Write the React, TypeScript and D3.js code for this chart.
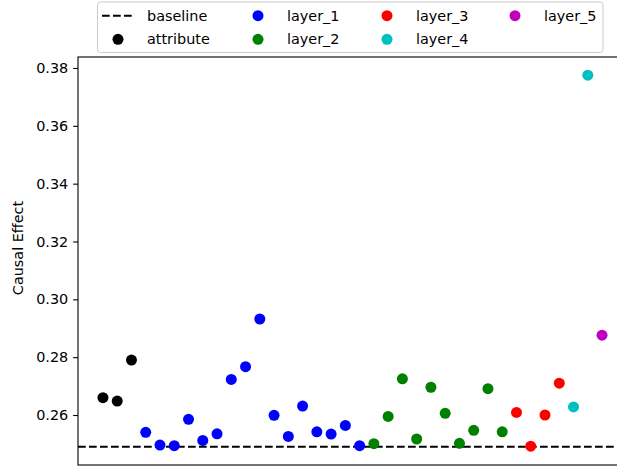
import React, { useEffect, useRef } from "react";
import * as d3 from "d3";

// values, in plotting order
const attributeVals = [0.266, 0.2648, 0.279];
const layer1Vals = [
  0.254, 0.2496, 0.2494, 0.2585, 0.2512, 0.2535, 0.2723, 0.2767,
  0.2932, 0.2599, 0.2526, 0.2631, 0.2542, 0.2534, 0.2564, 0.2494,
];
const layer2Vals = [
  0.2501, 0.2595, 0.2725, 0.2517, 0.2696, 0.2606, 0.2502, 0.2547, 0.2691, 0.2542,
];
const layer3Vals = [0.2609, 0.2492, 0.26, 0.271];
const layer4Vals = [0.2628, 0.3775];
const layer5Vals = [0.2876];
const baselineVal = 0.249;
const yTicks = [0.26, 0.28, 0.3, 0.32, 0.34, 0.36, 0.38];

const groups = [
  { name: "attribute", color: "#000000", vals: attributeVals },
  { name: "layer_1", color: "#0000ff", vals: layer1Vals },
  { name: "layer_2", color: "#008000", vals: layer2Vals },
  { name: "layer_3", color: "#ff0000", vals: layer3Vals },
  { name: "layer_4", color: "#00bfbf", vals: layer4Vals },
  { name: "layer_5", color: "#bf00bf", vals: layer5Vals },
];

const FONT = "DejaVu Sans, sans-serif";
const FS = 14.4;

export default function App() {
  const ref = useRef<SVGSVGElement>(null);

  useEffect(() => {
    const svg = d3.select(ref.current);
    svg.selectAll("*").remove();

    const left = 78, right = 627, top = 57, bottom = 465;

    // flatten the groups into indexed points
    let idx = 0;
    const points: { i: number; v: number; color: string }[] = [];
    groups.forEach((g) => {
      g.vals.forEach((v) => {
        points.push({ i: idx, v: v, color: g.color });
        idx++;
      });
    });
    const n = points.length - 1;
    const pad = n * 0.05;

    const x = d3.scaleLinear().domain([-pad, n + pad]).range([left, right]);
    const y = d3.scaleLinear().domain([0.24271, 0.3838]).range([bottom, top]);

    svg.append("rect")
      .attr("width", 617).attr("height", 468).attr("fill", "#fff");

    // baseline
    svg.append("line")
      .attr("x1", left).attr("x2", right)
      .attr("y1", y(baselineVal)).attr("y2", y(baselineVal))
      .attr("stroke", "#000")
      .attr("stroke-width", 2.1)
      .attr("stroke-dasharray", "7.7,3.3");

    // points
    svg.selectAll("circle.pt")
      .data(points)
      .enter().append("circle")
      .attr("class", "pt")
      .attr("cx", (d) => x(d.i))
      .attr("cy", (d) => y(d.v))
      .attr("r", 5.5)
      .attr("fill", (d) => d.color);

    // y axis
    const yAxis = d3.axisLeft(y).tickValues(yTicks)
      .tickFormat(d3.format(".2f"))
      .tickSize(4.9).tickPadding(4.9);
    const ga = svg.append("g")
      .attr("transform", "translate(" + left + ",0)")
      .call(yAxis);
    ga.select(".domain").remove();
    ga.selectAll("line").attr("stroke", "#000").attr("stroke-width", 1.1);
    ga.selectAll("text")
      .attr("font-family", FONT).attr("font-size", FS).attr("fill", "#000");

    // frame
    svg.append("rect")
      .attr("x", left).attr("y", top)
      .attr("width", right - left).attr("height", bottom - top)
      .attr("fill", "none")
      .attr("stroke", "#000")
      .attr("stroke-width", 1.1);

    svg.append("text")
      .attr("transform", "translate(23,248) rotate(-90)")
      .attr("text-anchor", "middle")
      .attr("font-family", FONT).attr("font-size", FS)
      .text("Causal Effect");

    // legend
    const lg = svg.append("g");
    lg.append("rect")
      .attr("x", 97.5).attr("y", 2).attr("width", 505.5).attr("height", 50.5)
      .attr("rx", 3).attr("fill", "#fff").attr("fill-opacity", 0.8)
      .attr("stroke", "#cccccc").attr("stroke-width", 1);

    const colX = [118, 258, 387, 515];
    const rowY = [15.7, 39.3];
    const entries = [{ name: "baseline", color: "" }].concat(
      groups.map((g) => ({ name: g.name, color: g.color }))
    );
    entries.forEach((e, k) => {
      const c = Math.floor(k / 2), r = k % 2;
      const cx = colX[c], cy = rowY[r];
      if (e.name === "baseline") {
        lg.append("line")
          .attr("x1", cx - 16).attr("x2", cx + 15)
          .attr("y1", cy).attr("y2", cy)
          .attr("stroke", "#000").attr("stroke-width", 2.1)
          .attr("stroke-dasharray", "7.7,3.3");
      } else {
        lg.append("circle")
          .attr("cx", cx).attr("cy", cy).attr("r", 5.5)
          .attr("fill", e.color);
      }
      lg.append("text")
        .attr("x", cx + 29).attr("y", cy)
        .attr("dy", "0.35em")
        .attr("font-family", FONT).attr("font-size", FS)
        .text(e.name);
    });
  }, []);

  return (
    <svg
      ref={ref}
      width={617}
      height={468}
      style={{ position: "fixed", left: 0, top: 0, display: "block" }}
    ></svg>
  );
}
